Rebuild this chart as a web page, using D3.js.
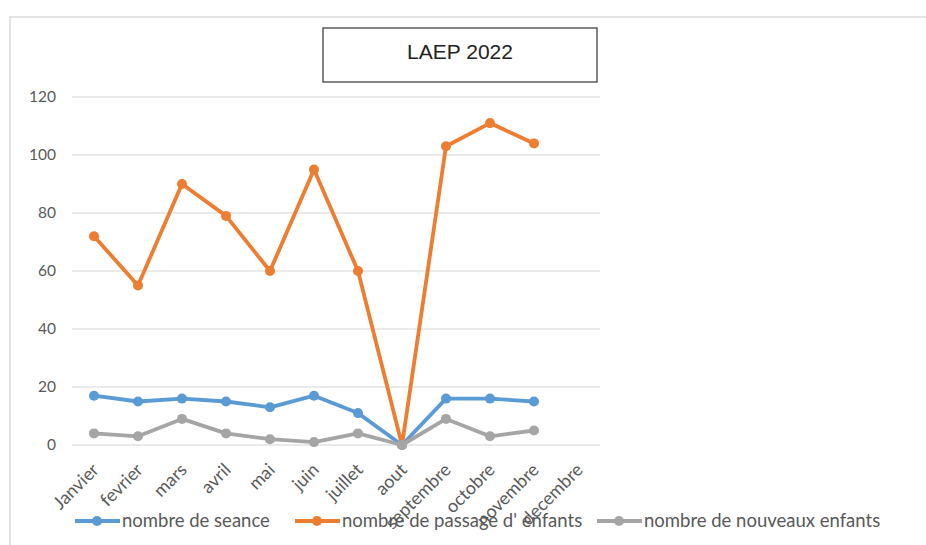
<!DOCTYPE html>
<html><head><meta charset="utf-8">
<script src="https://cdn.jsdelivr.net/npm/d3@7"></script>
<style>
html,body{margin:0;padding:0;background:#fff;}
svg{display:block;}
</style></head>
<body>
<svg id="chart" width="926" height="545"></svg>
<script>
const months = ["Janvier","fevrier","mars","avril","mai","juin","juillet","aout","septembre","octobre","novembre","decembre"];
const seance = [17,15,16,15,13,17,11,0,16,16,15,null];
const passage = [72,55,90,79,60,95,60,0,103,111,104,null];
const nouveaux = [4,3,9,4,2,1,4,0,9,3,5,null];
const yTicks = [0,20,40,60,80,100,120];
const seriesNames = ["nombre de seance","nombre de passage d' enfants","nombre de nouveaux enfants"];
const colors = ["#5B9BD5","#ED7D31","#A5A5A5"];

const svg = d3.select("#chart");
const font = "Lato, 'Open Sans', sans-serif";

// outer frame
svg.append("path").attr("d","M10,545 V17 H926").attr("fill","none").attr("stroke","#e4e4e4").attr("stroke-width",2);

const x = d3.scaleBand().domain(months).range([72,600]);
const y = d3.scaleLinear().domain([0,120]).range([445,97]);

// gridlines
svg.append("g").selectAll("line").data(yTicks).join("line")
  .attr("x1",72).attr("x2",600).attr("y1",d=>y(d)).attr("y2",d=>y(d))
  .attr("stroke","#e3e3e3").attr("stroke-width",1.5);

// y axis
const yAxis = svg.append("g").attr("transform","translate(56,0)")
  .call(d3.axisLeft(y).tickValues(yTicks).tickSize(0).tickPadding(0));
yAxis.select(".domain").remove();
yAxis.selectAll("text").attr("font-family",font).attr("font-size",15.5).attr("fill","#595959");

// x axis
const xAxis = svg.append("g").attr("transform","translate(0,445)")
  .call(d3.axisBottom(x).tickSize(0).tickPadding(0));
xAxis.select(".domain").remove();
xAxis.selectAll("text").attr("font-family",font).attr("font-size",18).attr("fill","#595959")
  .attr("text-anchor","end").attr("dy","0")
  .attr("transform","translate(6,26) rotate(-45)");

// lines
const data = [seance,passage,nouveaux];
const line = d3.line().defined(d=>d.v!=null).x(d=>x(d.m)+x.bandwidth()/2).y(d=>y(d.v));
data.forEach((arr,i)=>{
  const pts = arr.map((v,j)=>({m:months[j],v}));
  svg.append("path").datum(pts).attr("d",line).attr("fill","none")
    .attr("stroke",colors[i]).attr("stroke-width",3.8).attr("stroke-linejoin","round");
  svg.append("g").selectAll("circle").data(pts.filter(d=>d.v!=null)).join("circle")
    .attr("cx",d=>x(d.m)+x.bandwidth()/2).attr("cy",d=>y(d.v)).attr("r",5).attr("fill",colors[i]);
});

// title box
svg.append("rect").attr("x",323).attr("y",28).attr("width",274).attr("height",54)
  .attr("fill","#fff").attr("stroke","#333").attr("stroke-width",1.2);
svg.append("text").attr("x",460).attr("y",59).attr("text-anchor","middle")
  .attr("font-family","'Liberation Sans', Arial, sans-serif").attr("font-size",21).attr("fill","#222").text("LAEP 2022");

// legend
const legX = [75,295,597];
seriesNames.forEach((n,i)=>{
  const g = svg.append("g").attr("transform",`translate(${legX[i]},521)`);
  g.append("line").attr("x1",0).attr("x2",45).attr("stroke",colors[i]).attr("stroke-width",3.8);
  g.append("circle").attr("cx",22).attr("r",5).attr("fill",colors[i]);
  g.append("text").attr("x",47).attr("y",6).attr("font-family",font).attr("font-size",18.5)
    .attr("fill","#595959").text(n);
});
</script>
</body></html>
